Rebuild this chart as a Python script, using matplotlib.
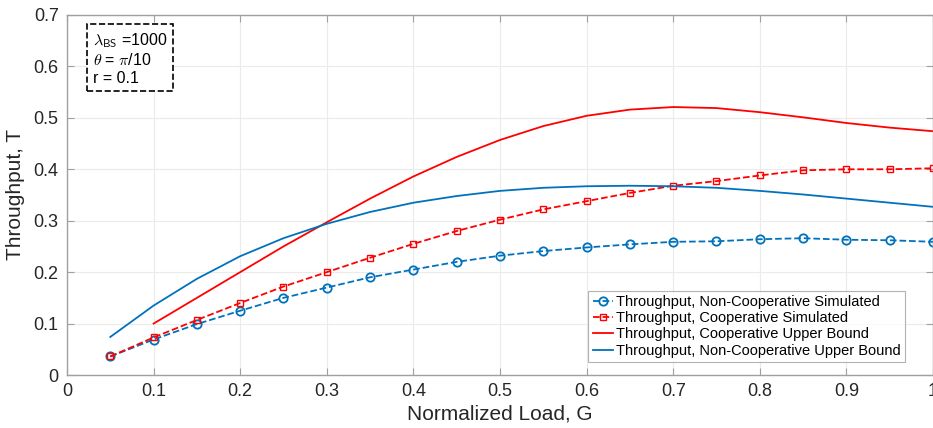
import numpy as np
import matplotlib
matplotlib.use('Agg')
from matplotlib import pyplot as plt

plt.rcParams['font.family'] = ['Liberation Sans', 'DejaVu Sans']
plt.rcParams['mathtext.fontset'] = 'cm'

load = np.arange(1, 21) * 0.05

noncoop_sim = [0.036, 0.069, 0.099, 0.125, 0.150, 0.170, 0.190, 0.205, 0.220, 0.232,
               0.241, 0.248, 0.254, 0.259, 0.260, 0.264, 0.266, 0.263, 0.262, 0.259]
coop_sim = [0.036, 0.073, 0.107, 0.140, 0.172, 0.200, 0.228, 0.255, 0.280, 0.302,
            0.322, 0.338, 0.354, 0.368, 0.377, 0.388, 0.398, 0.400, 0.400, 0.402]
# upper bound for cooperative starts at G = 0.1
coop_ub = [np.nan, 0.100, 0.150, 0.200, 0.250, 0.297, 0.343, 0.386, 0.424, 0.457,
           0.484, 0.504, 0.516, 0.521, 0.519, 0.511, 0.501, 0.490, 0.481, 0.474]
noncoop_ub = [0.074, 0.135, 0.187, 0.231, 0.266, 0.294, 0.317, 0.335, 0.348, 0.358,
              0.364, 0.367, 0.368, 0.367, 0.364, 0.358, 0.351, 0.343, 0.335, 0.327]

blue = '#0072BD'
red = '#FF0000'
edge = '#A0A0A0'
txt = '#262626'

fig = plt.figure(figsize=(9.33, 4.28), dpi=100)
ax = fig.add_axes([0.0718, 0.1238, 0.9282, 0.8412])

ax.plot(load, noncoop_sim, '--o', color=blue, lw=1.3, ms=6, mfc='none', mew=1.3,
        label='Throughput, Non-Cooperative Simulated')
ax.plot(load, coop_sim, '--s', color=red, lw=1.3, ms=5, mfc='none', mew=1.0,
        label='Throughput, Cooperative Simulated')
ax.plot(load, coop_ub, '-', color=red, lw=1.3, label='Throughput, Cooperative Upper Bound')
ax.plot(load, noncoop_ub, '-', color=blue, lw=1.3, label='Throughput, Non-Cooperative Upper Bound')

ax.set_xlim(0, 1)
ax.set_ylim(0, 0.7)
ax.set_xticks(np.arange(0, 1.01, 0.1))
ax.set_xticklabels(['0', '0.1', '0.2', '0.3', '0.4', '0.5', '0.6', '0.7', '0.8', '0.9', '1'])
ax.set_yticks(np.arange(0, 0.71, 0.1))
ax.set_yticklabels(['0', '0.1', '0.2', '0.3', '0.4', '0.5', '0.6', '0.7'])
ax.grid(True, color='#EBEBEB', lw=0.8)
ax.set_axisbelow(True)
for s in ax.spines.values():
    s.set_color(edge)
    s.set_linewidth(1.0)
ax.tick_params(direction='in', length=5, color=edge, labelsize=13, labelcolor=txt,
               top=True, right=True, pad=6)
ax.set_xlabel('Normalized Load, G', fontsize=15, color=txt, labelpad=3)
ax.set_ylabel('Throughput, T', fontsize=15, color=txt, labelpad=6)

leg = ax.legend(loc='lower right', bbox_to_anchor=(0.968, 0.036), fontsize=10.5,
                frameon=True, fancybox=False, handlelength=1.4, handletextpad=0.2,
                borderpad=0.3, labelspacing=0.15, borderaxespad=0.0)
leg.get_frame().set_edgecolor(edge)
leg.get_frame().set_linewidth(0.8)

ax.text(0.03, 0.955, '$\\lambda_{\\mathsf{BS}}$ =1000\n$\\theta$ = $\\pi$/10\nr = 0.1',
        transform=ax.transAxes, va='top', ha='left', fontsize=11.5, linespacing=1.2,
        bbox=dict(boxstyle='square,pad=0.35', fc='white', ec='black', ls='--', lw=1.2))

fig.savefig('out.png', dpi=100)
